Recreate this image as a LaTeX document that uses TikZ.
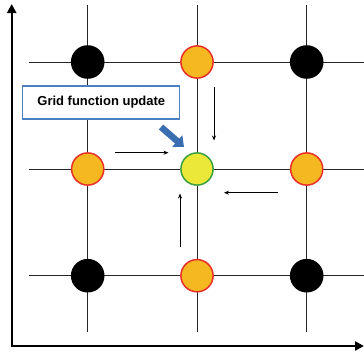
\documentclass[tikz,border=0pt]{standalone}
\usepackage{fontspec}
\setmainfont{Liberation Sans}
\usetikzlibrary{arrows.meta}
\definecolor{orfill}{HTML}{F5B820}
\definecolor{ordraw}{HTML}{E8302A}
\definecolor{yefill}{HTML}{ECE83A}
\definecolor{gedraw}{HTML}{3AA040}
\definecolor{boxblue}{HTML}{4A7FC0}
\definecolor{arrblue}{HTML}{3A6EB0}
\tikzset{
  gridline/.style={draw=black!85, line width=0.9pt},
  blackdot/.style={circle, fill=black, minimum size=33.6pt, inner sep=0pt},
  orangedot/.style={circle, fill=orfill, draw=ordraw, line width=1.5pt, minimum size=32.2pt, inner sep=0pt},
  yellowdot/.style={circle, fill=yefill, draw=gedraw, line width=1.5pt, minimum size=32.2pt, inner sep=0pt},
  axis/.style={line width=2.4pt, -{Triangle[length=9pt,width=9pt]}},
  flow/.style={line width=0.8pt, -{Stealth[length=5pt,width=4pt]}},
  labelbox/.style={draw=boxblue, line width=1.1pt, fill=white, minimum width=157pt, minimum height=33pt, inner sep=0pt, font=\bfseries\fontsize{13}{15}\selectfont},
}
\begin{document}
\begin{tikzpicture}[x=1pt,y=-1pt]
\useasboundingbox (0,0) rectangle (364,351);
% grid lines
\foreach \x in {87.7,197,306.7} \draw[gridline] (\x,5) -- (\x,332);
\foreach \y in {62,169,275.7} \draw[gridline] (29,\y) -- (364,\y);
% axes
\coordinate (ytip) at (11.7,4);
\coordinate (xtip) at (364,346);
\draw[axis] (11.7,347.2) -- (ytip);
\draw[axis] (10.5,346) -- (xtip);
% dots
\node[blackdot] (a1) at (87.7,62) {};
\node[orangedot] (a2) at (197,62) {};
\node[blackdot] (a3) at (306.7,62) {};
\node[orangedot] (b1) at (87.7,169) {};
\node[yellowdot] (b2) at (197,169) {};
\node[orangedot] (b3) at (306.7,169) {};
\node[blackdot] (c1) at (87.7,275.7) {};
\node[orangedot] (c2) at (197,275.7) {};
\node[blackdot] (c3) at (306.7,275.7) {};
% label box
\node[labelbox] (lab) at (101.3,102.5) {Grid function update};
% blue arrow
\coordinate (bs) at (161,127);
\coordinate (be) at (184,147);
\draw[arrblue, line width=6.5pt, -{Triangle[length=9pt,width=15pt]}] (bs) -- (be);
% flow arrows
\coordinate (r1) at (115,152.7); \coordinate (r2) at (168.5,152.7);
\coordinate (d1) at (214,87.3); \coordinate (d2) at (214,140.5);
\coordinate (l1) at (278.3,192.7); \coordinate (l2) at (224,192.7);
\coordinate (u1) at (180,246.7); \coordinate (u2) at (180,193.5);
\draw[flow] (r1) -- (r2);
\draw[flow] (d1) -- (d2);
\draw[flow] (l1) -- (l2);
\draw[flow] (u1) -- (u2);
\end{tikzpicture}
\end{document}
